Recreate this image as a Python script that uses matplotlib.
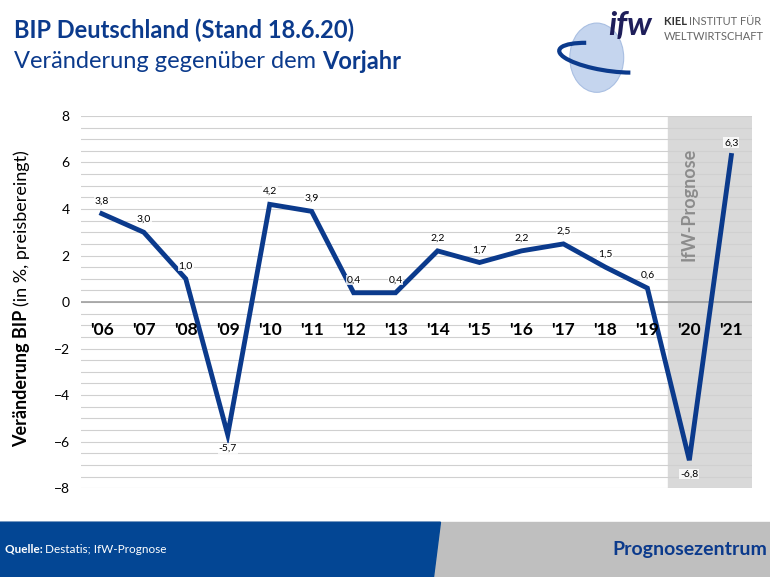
import numpy as np
import matplotlib.pyplot as plt
from matplotlib.patches import Polygon, Rectangle, Ellipse, Arc

years = ["'06", "'07", "'08", "'09", "'10", "'11", "'12", "'13", "'14", "'15",
         "'16", "'17", "'18", "'19", "'20", "'21"]
growth = [3.8, 3.0, 1.0, -5.7, 4.2, 3.9, 0.4, 0.4, 2.2, 1.7, 2.2, 2.5, 1.5, 0.6, -6.8, 6.3]
labels = ["3,8", "3,0", "1,0", "-5,7", "4,2", "3,9", "0,4", "0,4", "2,2", "1,7",
          "2,2", "2,5", "1,5", "0,6", "-6,8", "6,3"]
forecastStart = 14

plt.rcParams['font.family'] = 'Lato'
blue = '#0B3A8C'
fig = plt.figure(figsize=(7.7, 5.77), dpi=100)
renderer = fig.canvas.get_renderer()


def textAfter(first, txt, **kw):
    # place txt directly after the first text object
    bb = first.get_window_extent(renderer=renderer)
    x0 = bb.x1 / fig.bbox.width
    return fig.text(x0, first.get_position()[1], txt, **kw)


ax = fig.add_axes([0.105, 0.154, 0.872, 0.645])
x = np.arange(len(years))
ax.set_xlim(-0.5, len(years) - 0.5)
ax.set_ylim(-8, 8)
ax.axvspan(forecastStart - 0.5, len(years) - 0.5, color='#D9D9D9', zorder=0)
for v in np.arange(-8, 8.01, 0.5):
    ax.axhline(v, color='#D0D0D0', lw=0.8, zorder=1)
ax.axhline(0, color='#A0A0A0', lw=1.2, zorder=2)
ax.plot(x, growth, color=blue, lw=3.5, zorder=3, solid_joinstyle='miter')
for xi, v, t in zip(x, growth, labels):
    dy = 0.55 if v >= 0 else -0.6
    ax.text(xi, v + dy, t, ha='center', va='center', fontsize=7.5, zorder=4,
            bbox=dict(facecolor='white', edgecolor='none', pad=0.5, alpha=0.8))
for xi, t in zip(x, years):
    ax.text(xi, -1.2, t, ha='center', va='center', fontsize=12.5, fontweight='bold', zorder=4)
ax.text(forecastStart, 4.2, 'IfW-Prognose', rotation=90, ha='center', va='center',
        fontsize=13, fontweight='bold', color='#8C8C8C')
ax.set_xticks([])
ax.set_yticks(range(-8, 9, 2))
ax.tick_params(axis='y', length=0, labelsize=10, pad=8)
for s in ax.spines.values():
    s.set_visible(False)

yl1 = fig.text(0.028, 0.225, 'Veränderung BIP ', rotation=90, ha='center', va='bottom',
               fontsize=13, fontweight='bold')
bb = yl1.get_window_extent(renderer=renderer)
fig.text(0.028, bb.y1 / fig.bbox.height, '(in %, preisbereingt)', rotation=90,
         ha='center', va='bottom', fontsize=13)

fig.text(0.018, 0.948, 'BIP Deutschland (Stand 18.6.20)', fontsize=17, fontweight='bold',
         color=blue, va='center')
t1 = fig.text(0.018, 0.893, 'Veränderung gegenüber dem ', fontsize=17, color=blue, va='center')
textAfter(t1, 'Vorjahr', fontsize=17, fontweight='bold', color=blue, va='center')

# logo
fig.patches.append(Ellipse((0.775, 0.9), 0.07, 0.12, transform=fig.transFigure,
                           facecolor='#C5D5EE', edgecolor='#A9BFE2', lw=0.8))
fig.patches.append(Arc((0.79, 0.9), 0.13, 0.045, angle=-12, theta1=150, theta2=330,
                       transform=fig.transFigure, color=blue, lw=3))
fig.text(0.79, 0.955, 'ifw', fontsize=24, fontweight='bold', fontstyle='italic',
         color='#1E1E5A', ha='left', va='center')
k = fig.text(0.862, 0.963, 'KIEL ', fontsize=8, fontweight='bold', color='#333333', va='center')
textAfter(k, 'INSTITUT FÜR', fontsize=8, color='#666666', va='center')
fig.text(0.862, 0.937, 'WELTWIRTSCHAFT', fontsize=8, color='#666666', va='center')

# footer
fig.patches.append(Rectangle((0, 0), 1, 0.095, transform=fig.transFigure, color='#BFBFBF'))
fig.patches.append(Polygon([(0, 0), (0, 0.095), (0.572, 0.095), (0.563, 0)],
                           closed=True, transform=fig.transFigure, color='#034694'))
q = fig.text(0.006, 0.048, 'Quelle: ', fontsize=8.5, fontweight='bold',
             color='white', va='center')
textAfter(q, 'Destatis; IfW-Prognose', fontsize=8.5, color='white', va='center')
fig.text(0.997, 0.048, 'Prognosezentrum', fontsize=14, fontweight='bold', color='#0B3A8C',
         ha='right', va='center')

fig.savefig('out.png', dpi=100)
